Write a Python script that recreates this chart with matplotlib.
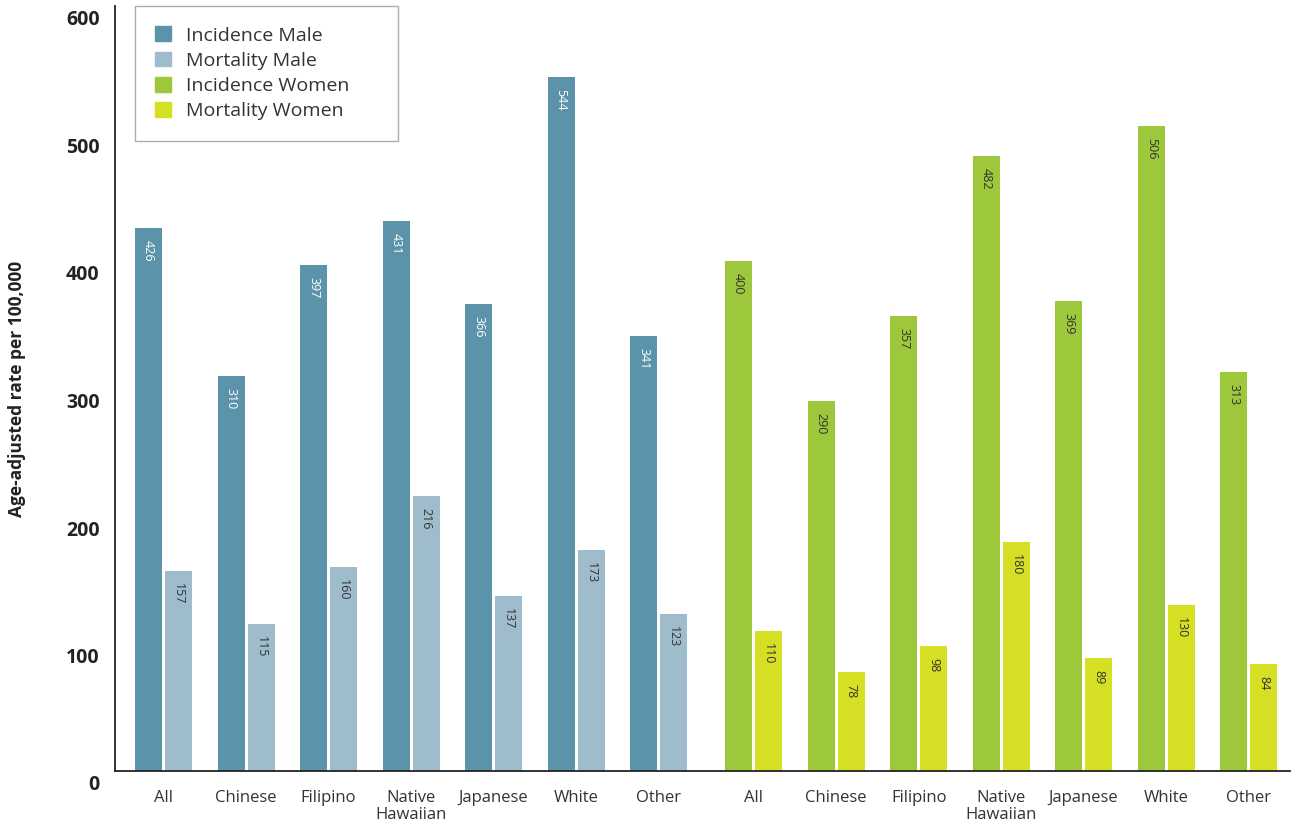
import matplotlib
matplotlib.use("Agg")
import matplotlib.pyplot as plt
import matplotlib.transforms as mtransforms
from matplotlib.patches import Patch
import numpy as np

plt.rcParams['font.family'] = ['Open Sans', 'DejaVu Sans']

# Data
groups = ['All', 'Chinese', 'Filipino', 'Native\nHawaiian', 'Japanese', 'White', 'Other']
incidence_male = [426, 310, 397, 431, 366, 544, 341]
mortality_male = [157, 115, 160, 216, 137, 173, 123]
incidence_women = [400, 290, 357, 482, 369, 506, 313]
mortality_women = [110, 78, 98, 180, 89, 130, 84]

c_inc_m = '#5b93ab'
c_mor_m = '#9ebccc'
c_inc_w = '#9dc83c'
c_mor_w = '#d5df23'

fig = plt.figure(figsize=(12.91, 8.25), dpi=100)
ax = fig.add_axes([115 / 1291, 54 / 825, 1175 / 1291, 765 / 825])

x_m = np.arange(len(groups))
x_w = np.arange(len(groups)) + 7.15
w = 0.327
off = 0.182


def bars(xs, vals, color, txtcolor):
    b = ax.bar(xs, vals, width=w, color=color, zorder=2)
    for rect, v in zip(b, vals):
        ax.annotate(str(v), (rect.get_x() + rect.get_width() / 2, rect.get_height()),
                    xytext=(0, -12), textcoords='offset pixels',
                    rotation=270, ha='center', va='top',
                    fontsize=9, color=txtcolor, zorder=3)


bars(x_m - off, incidence_male, c_inc_m, 'white')
bars(x_m + off, mortality_male, c_mor_m, '#333333')
bars(x_w - off, incidence_women, c_inc_w, '#333333')
bars(x_w + off, mortality_women, c_mor_w, '#333333')

ax.set_xlim(-0.588, 13.65)
ax.set_ylim(0, 600)

ax.set_xticks(np.concatenate([x_m, x_w]))
ax.set_xticklabels(groups + groups, fontsize=12, color='#333333', linespacing=1.05)
ax.tick_params(axis='x', length=0, pad=14)

ax.set_yticks([0, 100, 200, 300, 400, 500, 600])
ax.tick_params(axis='y', length=0, pad=11, labelsize=14)
shift = mtransforms.ScaledTranslation(0, -12 / 100, fig.dpi_scale_trans)
for lab in ax.get_yticklabels():
    lab.set_fontweight('bold')
    lab.set_color('#222222')
    lab.set_transform(lab.get_transform() + shift)

ax.set_ylabel('Age-adjusted rate per 100,000', fontsize=12.5, fontweight='bold', color='#222222')
ax.yaxis.set_label_coords(-0.076, 0.5)

for s in ['top', 'right']:
    ax.spines[s].set_visible(False)
for s in ['left', 'bottom']:
    ax.spines[s].set_color('#222222')
    ax.spines[s].set_linewidth(1.3)

handles = [Patch(color=c_inc_m), Patch(color=c_mor_m), Patch(color=c_inc_w), Patch(color=c_mor_w)]
leg = ax.legend(handles, ['Incidence Male', 'Mortality Male', 'Incidence Women', 'Mortality Women'],
                loc='upper left', bbox_to_anchor=(0.017, 0.5, 0.224, 0.5), mode='expand',
                fontsize=14, frameon=True, fancybox=False,
                handlelength=0.8, handleheight=0.8,
                borderpad=1.05, labelspacing=0.36, handletextpad=0.75, borderaxespad=0)
leg.get_frame().set_edgecolor('#999999')
leg.get_frame().set_linewidth(1.0)
for t in leg.get_texts():
    t.set_color('#333333')

fig.savefig('out.png', dpi=100)
